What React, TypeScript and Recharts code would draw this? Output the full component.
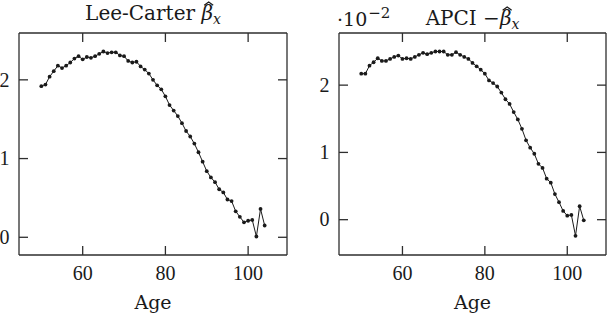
import React from 'react';
import { LineChart, Line, XAxis, YAxis } from 'recharts';

const ages = [
  50, 51, 52, 53, 54, 55, 56, 57, 58, 59,
  60, 61, 62, 63, 64, 65, 66, 67, 68, 69,
  70, 71, 72, 73, 74, 75, 76, 77, 78, 79,
  80, 81, 82, 83, 84, 85, 86, 87, 88, 89,
  90, 91, 92, 93, 94, 95, 96, 97, 98, 99,
  100, 101, 102, 103, 104,
];

const leeCarterBeta = [
  1.92, 1.94, 2.04, 2.11, 2.18, 2.15, 2.18, 2.22, 2.27, 2.30,
  2.26, 2.29, 2.28, 2.30, 2.33, 2.36, 2.34, 2.35, 2.35, 2.31,
  2.30, 2.24, 2.22, 2.23, 2.17, 2.13, 2.08, 2.00, 1.93, 1.88,
  1.79, 1.68, 1.61, 1.54, 1.45, 1.35, 1.28, 1.19, 1.08, 0.96,
  0.84, 0.76, 0.70, 0.61, 0.57, 0.48, 0.46, 0.33, 0.26, 0.19,
  0.21, 0.22, 0.01, 0.36, 0.15,
];

const apciNegBeta = [
  2.17, 2.17, 2.29, 2.34, 2.40, 2.36, 2.36, 2.39, 2.42, 2.44,
  2.39, 2.40, 2.39, 2.42, 2.45, 2.48, 2.46, 2.48, 2.50, 2.50,
  2.50, 2.45, 2.45, 2.49, 2.45, 2.42, 2.39, 2.33, 2.28, 2.23,
  2.17, 2.07, 2.03, 1.98, 1.89, 1.79, 1.72, 1.60, 1.49, 1.35,
  1.18, 1.07, 0.98, 0.83, 0.77, 0.61, 0.55, 0.38, 0.26, 0.13,
  0.06, 0.07, -0.24, 0.20, -0.01,
];

const xTicks = [60, 80, 100];
const yTicks = [0, 1, 2];

const X_DOMAIN: [number, number] = [44.6, 109.4];
const LC_DOMAIN: [number, number] = [-0.225, 2.595];
const APCI_DOMAIN: [number, number] = [-0.525, 2.775];

const FONT = "'DejaVu Serif', serif";
const TICK_FONT = "'Liberation Serif', serif";
const INK = '#1a1a1a';
const FRAME = '#2e2e2e';
const TICK_LEN = 9;
const X_MARGIN = 11;
const Y_MARGIN = 9.5;
const TICK_FS = 20;
const TITLE_FS = 20;

const BottomTick = (props: any) => {
  const { x, y, payload } = props;
  const axisY = y - X_MARGIN;
  return (
    <g>
      <line x1={x} y1={axisY} x2={x} y2={axisY - TICK_LEN} stroke={FRAME} strokeWidth={1.3} />
      <text x={x} y={y} dy="0.7em" textAnchor="middle" fontFamily={TICK_FONT} fontSize={TICK_FS} fill={INK}>
        {payload.value}
      </text>
    </g>
  );
};

const TopTick = (props: any) => {
  const { x, y } = props;
  return <line x1={x} y1={y} x2={x} y2={y + TICK_LEN} stroke={FRAME} strokeWidth={1.3} />;
};

const LeftTick = (props: any) => {
  const { x, y, payload } = props;
  const axisX = x + Y_MARGIN;
  return (
    <g>
      <line x1={axisX} y1={y} x2={axisX + TICK_LEN} y2={y} stroke={FRAME} strokeWidth={1.3} />
      <text x={x} y={y} dy="0.34em" textAnchor="end" fontFamily={TICK_FONT} fontSize={TICK_FS} fill={INK}>
        {payload.value}
      </text>
    </g>
  );
};

const RightTick = (props: any) => {
  const { x, y } = props;
  return <line x1={x} y1={y} x2={x - TICK_LEN} y2={y} stroke={FRAME} strokeWidth={1.3} />;
};

function Title(props: { viewBox?: any; prefix: string; baselineUp: number; exponent: boolean }) {
  const vb = props.viewBox || { x: 0, y: 0, width: 0, height: 0 };
  const cx = vb.x + vb.width / 2;
  const by = vb.y - props.baselineUp;
  const ref = React.useRef<SVGTextElement>(null);
  const [hatX, setHatX] = React.useState<number | null>(null);
  React.useLayoutEffect(() => {
    const t = ref.current;
    if (!t) return;
    try {
      const r = t.getExtentOfChar(props.prefix.length);
      const hx = r.x + r.width / 2 + 1.5;
      if (hatX === null || Math.abs(hatX - hx) > 0.1) setHatX(hx);
    } catch (e) {
      /* ignore */
    }
  });
  return (
    <g>
      <text ref={ref} x={cx} y={by} textAnchor="middle" fontFamily={FONT} fontSize={TITLE_FS} fill={INK}>
        {props.prefix}
        <tspan fontStyle="italic">{'\u03B2'}</tspan>
        <tspan fontStyle="italic" fontSize={14} dy={4}>x</tspan>
      </text>
      {hatX !== null && (
        <path
          d={`M${hatX - 4.5},${by - 14.8} L${hatX},${by - 18} L${hatX + 4.5},${by - 14.8}`}
          fill="none"
          stroke={INK}
          strokeWidth={1.2}
          strokeLinejoin="miter"
        />
      )}
      {props.exponent && (
        <text x={vb.x - 2} y={vb.y - 6} textAnchor="start" fontFamily={FONT} fontSize={19} fill={INK}>
          {'\u00B710'}
          <tspan fontSize={15} dx={1} dy={-8}>{'\u22122'}</tspan>
        </text>
      )}
    </g>
  );
}

const makeTitle = (prefix: string, baselineUp: number, exponent: boolean) => (p: any) => (
  <Title viewBox={p.viewBox} prefix={prefix} baselineUp={baselineUp} exponent={exponent} />
);

const frameLine = { stroke: FRAME, strokeWidth: 1.3 };

function Panel(props: {
  values: number[];
  yDomain: [number, number];
  width: number;
  yAxisWidth: number;
  marginRight: number;
  title: (p: any) => React.ReactElement;
}) {
  const data = ages.map((a, i) => ({ age: a, v: props.values[i] }));
  return (
    <LineChart
      width={props.width}
      height={313}
      data={data}
      margin={{ top: 32, right: props.marginRight - 1, bottom: 0, left: 0 }}
    >
      <XAxis
        xAxisId="b"
        dataKey="age"
        type="number"
        domain={X_DOMAIN}
        allowDataOverflow
        ticks={xTicks}
        orientation="bottom"
        height={58}
        tickSize={0}
        tickMargin={X_MARGIN}
        tickLine={false}
        axisLine={frameLine}
        tick={BottomTick}
        label={{ value: 'Age', position: 'insideBottom', offset: 4, fontFamily: FONT, fontSize: 19, fill: INK }}
      />
      <XAxis
        xAxisId="t"
        dataKey="age"
        type="number"
        domain={X_DOMAIN}
        allowDataOverflow
        ticks={xTicks}
        orientation="top"
        height={1}
        tickSize={0}
        tickMargin={0}
        tickLine={false}
        axisLine={frameLine}
        tick={TopTick}
        label={{ content: props.title }}
      />
      <YAxis
        yAxisId="l"
        type="number"
        domain={props.yDomain}
        allowDataOverflow
        ticks={yTicks}
        orientation="left"
        width={props.yAxisWidth}
        tickSize={0}
        tickMargin={Y_MARGIN}
        tickLine={false}
        axisLine={frameLine}
        tick={LeftTick}
      />
      <YAxis
        yAxisId="r"
        type="number"
        domain={props.yDomain}
        allowDataOverflow
        ticks={yTicks}
        orientation="right"
        width={1}
        tickSize={0}
        tickMargin={0}
        tickLine={false}
        axisLine={frameLine}
        tick={RightTick}
      />
      <Line
        xAxisId="t"
        yAxisId="r"
        dataKey="v"
        type="linear"
        stroke="none"
        dot={false}
        activeDot={false}
        legendType="none"
        isAnimationActive={false}
      />
      <Line
        xAxisId="b"
        yAxisId="l"
        dataKey="v"
        type="linear"
        stroke={INK}
        strokeWidth={1}
        dot={{ r: 1.9, fill: INK, stroke: 'none' }}
        activeDot={false}
        isAnimationActive={false}
      />
    </LineChart>
  );
}

export default function App() {
  return (
    <div style={{ position: 'absolute', left: 0, top: 0, width: 607, height: 313, background: '#fff' }}>
      <div style={{ position: 'absolute', left: 0, top: 0 }}>
        <Panel
          values={leeCarterBeta}
          yDomain={LC_DOMAIN}
          width={300}
          yAxisWidth={19}
          marginRight={13}
          title={makeTitle('Lee-Carter ', 12, false)}
        />
      </div>
      <div style={{ position: 'absolute', left: 300, top: 0 }}>
        <Panel
          values={apciNegBeta}
          yDomain={APCI_DOMAIN}
          width={307}
          yAxisWidth={39}
          marginRight={1}
          title={makeTitle('APCI \u2212', 7, true)}
        />
      </div>
    </div>
  );
}
